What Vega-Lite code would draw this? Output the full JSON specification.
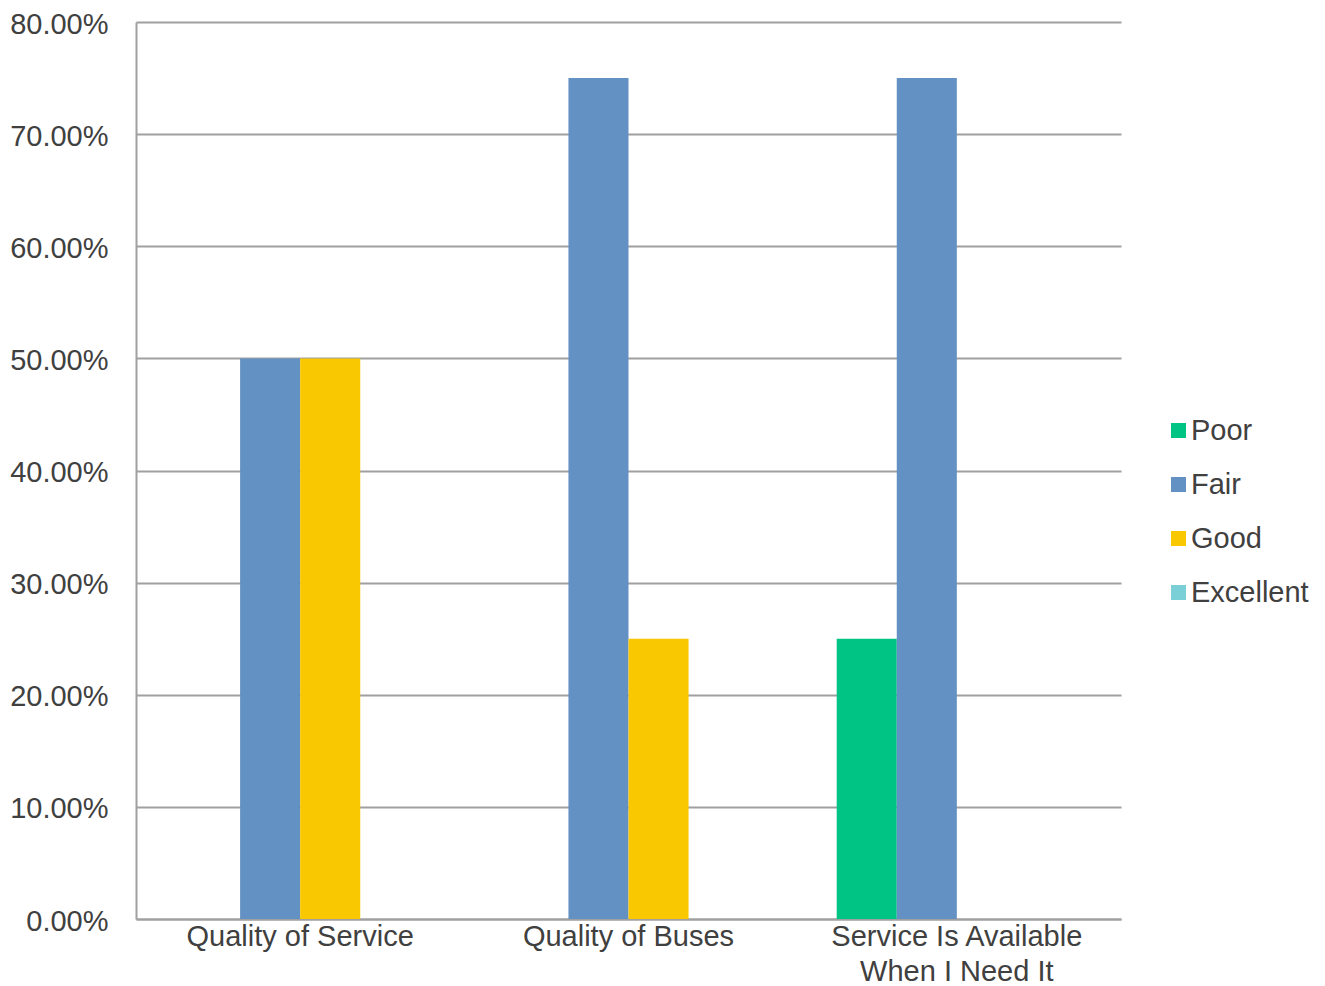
{
  "$schema": "https://vega.github.io/schema/vega-lite/v6.json",
  "width": 985,
  "height": 897,
  "autosize": "none",
  "padding": {"left": 136, "top": 22, "right": 204, "bottom": 67},
  "background": "white",
  "config": {
    "font": "Liberation Sans",
    "view": {"stroke": null}
  },
  "data": {
    "values": [
      {"aspect": "Quality of Service", "rating": "Poor", "share": 0},
      {"aspect": "Quality of Service", "rating": "Fair", "share": 0.5},
      {"aspect": "Quality of Service", "rating": "Good", "share": 0.5},
      {"aspect": "Quality of Service", "rating": "Excellent", "share": 0},
      {"aspect": "Quality of Buses", "rating": "Poor", "share": 0},
      {"aspect": "Quality of Buses", "rating": "Fair", "share": 0.75},
      {"aspect": "Quality of Buses", "rating": "Good", "share": 0.25},
      {"aspect": "Quality of Buses", "rating": "Excellent", "share": 0},
      {"aspect": "Service Is Available When I Need It", "rating": "Poor", "share": 0.25},
      {"aspect": "Service Is Available When I Need It", "rating": "Fair", "share": 0.75},
      {"aspect": "Service Is Available When I Need It", "rating": "Good", "share": 0},
      {"aspect": "Service Is Available When I Need It", "rating": "Excellent", "share": 0}
    ]
  },
  "mark": {"type": "bar"},
  "encoding": {
    "x": {
      "field": "aspect",
      "type": "nominal",
      "sort": null,
      "scale": {"paddingInner": 0, "paddingOuter": 0},
      "axis": {
        "title": null,
        "labelAngle": 0,
        "labelFontSize": 29,
        "labelColor": "#404040",
        "labelPadding": 3,
        "labelLimit": 0,
        "labelLineHeight": 35,
        "labelExpr": "datum.value == 'Service Is Available When I Need It' ? ['Service Is Available', 'When I Need It'] : datum.value",
        "ticks": false,
        "domainColor": "#a0a0a0",
        "domainWidth": 2,
        "grid": false
      }
    },
    "xOffset": {
      "field": "rating",
      "type": "nominal",
      "sort": ["Poor", "Fair", "Good", "Excellent"],
      "scale": {"paddingInner": 0, "paddingOuter": 0.733}
    },
    "y": {
      "field": "share",
      "type": "quantitative",
      "scale": {"domain": [0, 0.8], "nice": false},
      "axis": {
        "title": null,
        "format": ".2%",
        "values": [0, 0.1, 0.2, 0.3, 0.4, 0.5, 0.6, 0.7, 0.8],
        "labelFontSize": 29,
        "labelColor": "#404040",
        "labelPadding": 28,
        "labelOffset": 2,
        "labelLimit": 0,
        "ticks": false,
        "domainColor": "#a0a0a0",
        "domainWidth": 2,
        "gridColor": "#a0a0a0",
        "gridWidth": 2
      }
    },
    "color": {
      "field": "rating",
      "type": "nominal",
      "sort": ["Poor", "Fair", "Good", "Excellent"],
      "scale": {
        "domain": ["Poor", "Fair", "Good", "Excellent"],
        "range": ["#00c484", "#6391c3", "#f9c800", "#7bcfd6"]
      },
      "legend": {
        "title": null,
        "orient": "none",
        "legendX": 1028,
        "legendY": 394,
        "symbolType": "square",
        "symbolSize": 225,
        "symbolStrokeWidth": 0,
        "symbolOffset": 0,
        "labelFontSize": 29,
        "labelColor": "#404040",
        "labelOffset": -2,
        "labelLimit": 0,
        "rowPadding": 24
      }
    }
  }
}
